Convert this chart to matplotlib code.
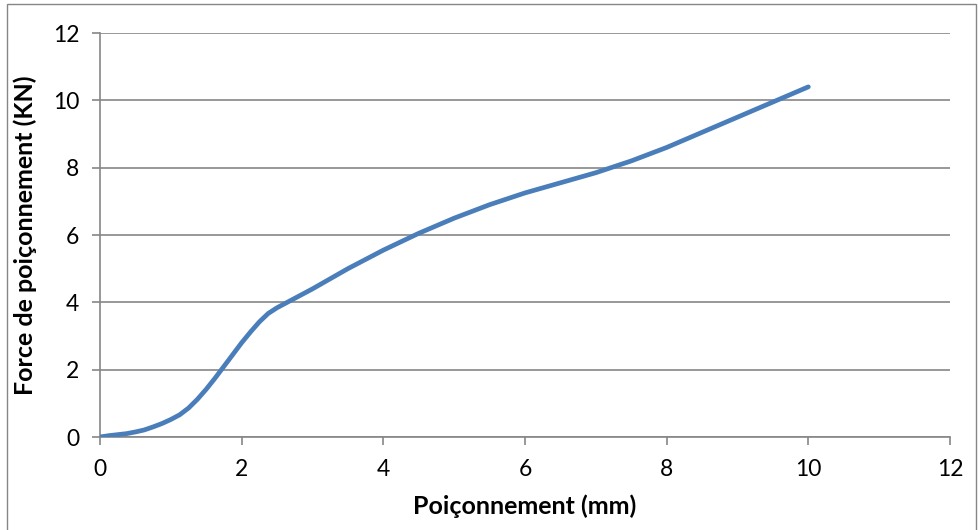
import matplotlib
matplotlib.use("Agg")
import matplotlib.pyplot as plt
from matplotlib.patches import Rectangle

# Punching displacement (mm) and force (kN)
displacement = [0, 0.125, 0.25, 0.375, 0.5, 0.625, 0.75, 0.875, 1.0, 1.125,
                1.25, 1.375, 1.5, 1.625, 1.75, 1.875, 2.0, 2.125, 2.25,
                2.375, 2.5, 2.75, 3.0, 3.5, 4.0, 4.5, 5.0, 5.5, 6.0, 6.5,
                7.0, 7.5, 8.0, 8.5, 9.0, 9.5, 10.0]
force = [0, 0.04, 0.07, 0.1, 0.15, 0.21, 0.3, 0.4, 0.52, 0.66,
         0.86, 1.12, 1.42, 1.75, 2.1, 2.45, 2.8, 3.12, 3.42,
         3.67, 3.84, 4.12, 4.4, 5.0, 5.55, 6.05, 6.5, 6.9, 7.25, 7.55,
         7.85, 8.2, 8.6, 9.05, 9.5, 9.95, 10.4]

x_ticks = [0, 2, 4, 6, 8, 10, 12]
y_ticks = [0, 2, 4, 6, 8, 10, 12]

grey = "#868686"
plt.rcParams['font.family'] = ['Lato', 'DejaVu Sans']

fig = plt.figure(figsize=(9.79, 5.30), dpi=100)
ax = fig.add_axes([100 / 979, 1 - 437 / 530, 850 / 979, 404 / 530])

ax.plot(displacement, force, color="#4A7EBB", linewidth=3.4,
        solid_capstyle="round", solid_joinstyle="round", zorder=3)

ax.set_xlim(0, 12)
ax.set_ylim(0, 12)
ax.set_xticks(x_ticks)
ax.set_yticks(y_ticks)
ax.set_xticklabels([str(t) for t in x_ticks])
ax.set_yticklabels([str(t) for t in y_ticks])

ax.grid(axis="y", color=grey, linewidth=1.2)
ax.set_axisbelow(True)
for side in ("top", "right"):
    ax.spines[side].set_visible(False)
for side in ("left", "bottom"):
    ax.spines[side].set_color(grey)
    ax.spines[side].set_linewidth(1.2)

ax.tick_params(axis="both", direction="out", length=6, width=1.2,
               color=grey, labelsize=16.5, labelcolor="black")
ax.tick_params(axis="x", pad=10)
ax.tick_params(axis="y", pad=9)

ax.set_xlabel("Poiçonnement (mm)", fontsize=18, fontweight="bold", labelpad=10)
ax.set_ylabel("Force de poiçonnement (KN)", fontsize=18, fontweight="bold",
              labelpad=11)

# Chart area border
fig.patches.append(Rectangle((7 / 979, -0.01), 969 / 979, 1 - 4 / 530 + 0.01,
                             transform=fig.transFigure, fill=False,
                             edgecolor=grey, linewidth=1.0))

fig.savefig("out.png", dpi=100)
